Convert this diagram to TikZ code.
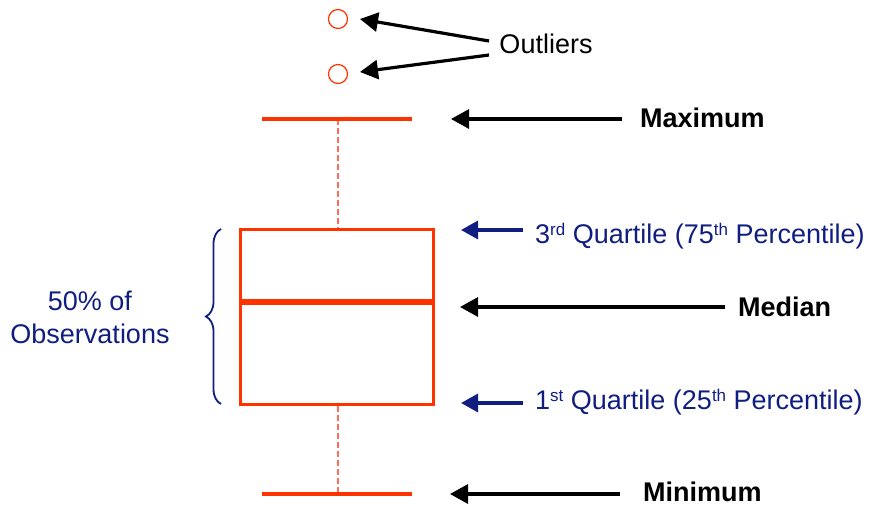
\documentclass[tikz,border=0pt]{standalone}
\usepackage{fontspec}
\setmainfont{Liberation Sans}
\usetikzlibrary{arrows.meta,decorations.pathreplacing}
\definecolor{boxred}{RGB}{255,51,0}
\definecolor{dashred}{RGB}{255,110,90}
\definecolor{navy}{RGB}{16,30,128}
\begin{document}
\begin{tikzpicture}[x=1pt,y=-1pt,
  redline/.style={draw=boxred,line width=4pt},
  whisk/.style={draw=dashred,line width=1.3pt,dash pattern=on 6pt off 3pt},
  blackarrow/.style={draw=black,line width=3.2pt,-{Triangle[length=18pt,width=19pt]}},
  bluearrow/.style={draw=navy,line width=3.2pt,-{Triangle[length=17pt,width=18pt]}},
  lbl/.style={inner sep=0pt,font=\fontsize{27}{33}\selectfont},
  bold/.style={lbl,font=\fontsize{27}{33}\selectfont\bfseries},
  bluelbl/.style={lbl,text=navy},
  outl/.style={circle,draw=boxred,line width=1.2pt,minimum size=19pt,inner sep=0pt}]
\useasboundingbox (0,0) rectangle (872,506);
% outliers
\node[outl] (o1) at (338,19) {};
\node[outl] (o2) at (338,74) {};
% whiskers
\coordinate (maxL) at (262,119);
\coordinate (maxR) at (412,119);
\coordinate (maxC) at (338,119);
\coordinate (minL) at (262,494);
\coordinate (minR) at (412,494);
\coordinate (minC) at (338,494);
\node[draw=boxred,line width=3pt,minimum width=193pt,minimum height=175pt,inner sep=0pt] (box) at (336.5,316.5) {};
\draw[whisk] (maxC) -- (box.north -| maxC);
\draw[whisk] (box.south -| minC) -- (minC);
\draw[redline] (maxL) -- (maxR);
\draw[redline] (minL) -- (minR);
\draw[draw=boxred,line width=5.5pt] (box.west |- 0,302) -- (box.east |- 0,302);
% labels
\node[lbl,anchor=base] (out) at (546,53) {Outliers};
\node[bold,anchor=base west] (maxT) at (640,127) {Maximum};
\node[bold,anchor=base west] (medT) at (738,316) {Median};
\node[bold,anchor=base west] (minT) at (643,501) {Minimum};
\node[bluelbl,anchor=base west] (q3T) at (535,243) {3{\fontsize{17}{20}\selectfont\raisebox{8pt}{rd}} Quartile (75{\fontsize{17}{20}\selectfont\raisebox{8pt}{th}} Percentile)};
\node[bluelbl,anchor=base west] (q1T) at (535,409) {1{\fontsize{17}{20}\selectfont\raisebox{8pt}{st}} Quartile (25{\fontsize{17}{20}\selectfont\raisebox{8pt}{th}} Percentile)};
\node[bluelbl,align=center,anchor=base] (obs) at (90,343) {50\% of\\Observations};
% arrows
\coordinate (a1s) at (489,41);
\coordinate (a1e) at (360,19);
\coordinate (a2s) at (489,55);
\coordinate (a2e) at (360,72);
\draw[blackarrow] (a1s) -- (a1e);
\draw[blackarrow] (a2s) -- (a2e);
\coordinate (maxS) at (622,119);
\coordinate (maxE) at (451,119);
\draw[blackarrow] (maxS) -- (maxE);
\coordinate (medS) at (725,307);
\coordinate (medE) at (460,307);
\draw[blackarrow] (medS) -- (medE);
\coordinate (minS) at (620,494);
\coordinate (minE) at (450,494);
\draw[blackarrow] (minS) -- (minE);
\coordinate (q3S) at (523,230);
\coordinate (q3E) at (461,230);
\draw[bluearrow] (q3S) -- (q3E);
\coordinate (q1S) at (523,403);
\coordinate (q1E) at (461,403);
\draw[bluearrow] (q1S) -- (q1E);
% brace
\coordinate (brB) at (221,404);
\coordinate (brT) at (221,229);
\draw[navy,line width=1.8pt,decorate,decoration={brace,amplitude=15pt,aspect=0.5}] (brB) -- (brT);
\end{tikzpicture}
\end{document}
